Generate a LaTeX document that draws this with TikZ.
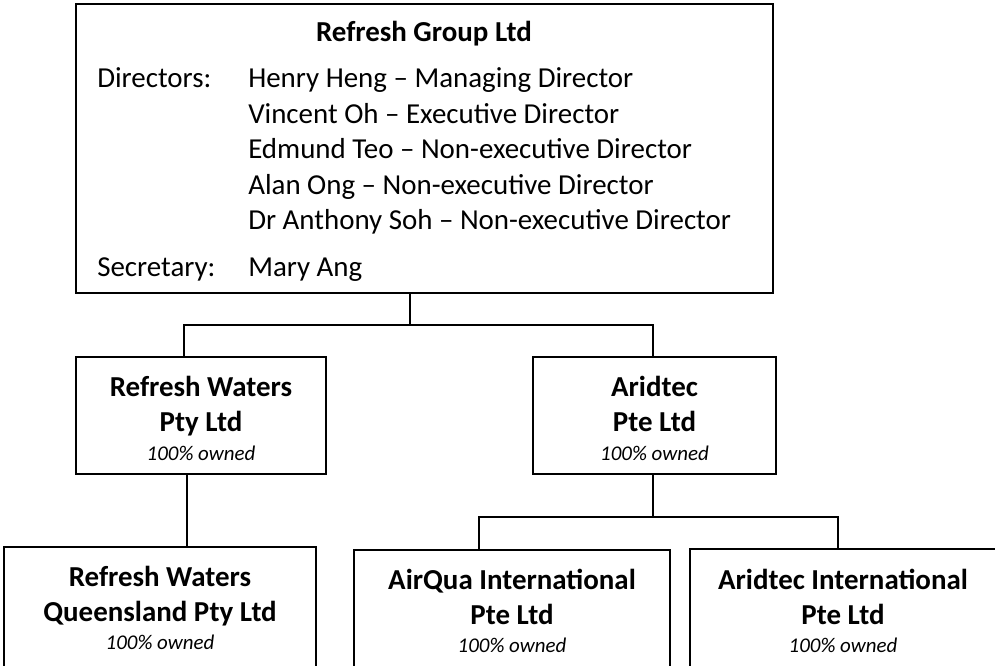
\documentclass[tikz,border=0pt]{standalone}
\usepackage{fontspec}
\setmainfont{Carlito}
\usetikzlibrary{fit}
\begin{document}
\begin{tikzpicture}[x=0.75pt,y=-0.75pt,
  box/.style={draw, line width=1.4pt, inner sep=0pt, fit={#1}},
  link/.style={line width=1.1pt},
  bigtxt/.style={font=\fontsize{21.7}{26}\selectfont, anchor=base, inner sep=0pt},
  bigl/.style={font=\fontsize{21.7}{26}\selectfont, anchor=base west, inner sep=0pt},
  boldtxt/.style={font=\fontsize{21.7}{26}\selectfont\bfseries, anchor=base, inner sep=0pt},
  owned/.style={font=\fontsize{15.7}{19}\selectfont\itshape, anchor=base, inner sep=0pt}]
\useasboundingbox (0,0) rectangle (995,666);
\clip (0,0) rectangle (995,666);

% boxes
\node[box={(76,4) (773,293)}] (top) {};
\node[box={(76,357) (326,474)}] (rw) {};
\node[box={(533,357) (776,474)}] (ar) {};
\node[box={(4,547) (316,720)}] (rq) {};
\node[box={(354,550) (670,720)}] (aq) {};
\node[box={(690,549) (996,720)}] (ai) {};

% top box text
\node[boldtxt] (title) at (424,42) {Refresh Group Ltd};
\node[bigl] (dirl) at (97,88) {Directors:};
\node[bigl] (d1) at (248,88) {Henry Heng – Managing Director};
\node[bigl] (d2) at (248,123.5) {Vincent Oh – Executive Director};
\node[bigl] (d3) at (248,159) {Edmund Teo – Non-executive Director};
\node[bigl] (d4) at (248,194.5) {Alan Ong – Non-executive Director};
\node[bigl] (d5) at (248,230) {Dr Anthony Soh – Non-executive Director};
\node[bigl] (secl) at (97,277) {Secretary:};
\node[bigl] (sec) at (248,277) {Mary Ang};

% level 2 text
\node[boldtxt] (rw1) at (201,396) {Refresh Waters};
\node[boldtxt] (rw2) at (201,431) {Pty Ltd};
\node[owned] (rw3) at (201,460) {100\% owned};
\node[boldtxt] (ar1) at (654.5,396) {Aridtec};
\node[boldtxt] (ar2) at (654.5,431) {Pte Ltd};
\node[owned] (ar3) at (654.5,460) {100\% owned};

% level 3 text
\node[boldtxt] (rq1) at (160,586) {Refresh Waters};
\node[boldtxt] (rq2) at (160,621) {Queensland Pty Ltd};
\node[owned] (rq3) at (160,649) {100\% owned};
\node[boldtxt] (aq1) at (512,589) {AirQua International};
\node[boldtxt] (aq2) at (512,624) {Pte Ltd};
\node[owned] (aq3) at (512,652) {100\% owned};
\node[boldtxt] (ai1) at (843,589) {Aridtec International};
\node[boldtxt] (ai2) at (843,624) {Pte Ltd};
\node[owned] (ai3) at (843,652) {100\% owned};

% connector points
\coordinate (topb) at (410,293);
\coordinate (j1) at (410,325);
\coordinate (rwt) at (184,357);
\coordinate (art) at (653,357);
\coordinate (rwb) at (187,474);
\coordinate (rqt) at (187,547);
\coordinate (arb) at (653,474);
\coordinate (j2) at (653,517);
\coordinate (aqt) at (479,550);
\coordinate (ait) at (838,549);

\draw[link] (topb) -- (j1);
\draw[link] (rwt) |- (j1) -| (art);
\draw[link] (rwb) -- (rqt);
\draw[link] (arb) -- (j2);
\draw[link] (aqt) |- (j2) -| (ait);
\end{tikzpicture}
\end{document}
